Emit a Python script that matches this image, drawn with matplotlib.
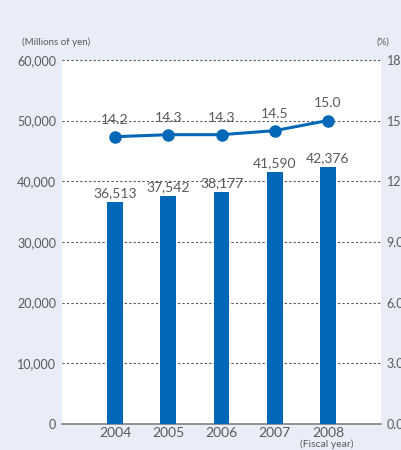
import matplotlib.pyplot as plt

# data
tahun = ['2004', '2005', '2006', '2007', '2008']
nilai = [36513, 37542, 38177, 41590, 42376]
rasio = [14.2, 14.3, 14.3, 14.5, 15.0]
yticks_kiri = [0, 10000, 20000, 30000, 40000, 50000, 60000]
yticks_kanan = [0.0, 3.0, 6.0, 9.0, 12.0, 15.0, 18.0]

biru = '#0068b7'
abu = '#5a5a5a'
bg = '#e9edf8'

plt.rcParams['font.family'] = ['Lato', 'DejaVu Sans']

fig = plt.figure(figsize=(4.02, 4.5), dpi=100, facecolor=bg)
ax = fig.add_axes([0.154, 0.058, 0.794, 0.809])
ax.set_facecolor('white')

x = list(range(len(tahun)))
ax.bar(x, nilai, width=0.3, color=biru, zorder=3)
ax.set_xlim(-1, 5)
ax.set_ylim(0, 60000)
ax.set_yticks(yticks_kiri)
ax.set_yticklabels([f'{v:,}' for v in yticks_kiri])
ax.set_xticks(x)
ax.set_xticklabels(tahun)
ax.tick_params(length=0, labelsize=9, colors=abu, pad=4)
ax.tick_params(axis='x', labelsize=10, pad=2)

for v in yticks_kiri[1:]:
    ax.axhline(v, color='#555555', lw=0.8, ls=(0, (2, 2)), zorder=1, clip_on=False)

for s in ['top', 'left', 'right']:
    ax.spines[s].set_visible(False)
ax.spines['bottom'].set_color('#8a8a8a')
ax.spines['bottom'].set_linewidth(1.3)

for xi, v in zip(x, nilai):
    ax.annotate(f'{v:,}', (xi, v), xytext=(0, 2), textcoords='offset points',
                ha='center', va='bottom', fontsize=10, color=abu, zorder=4)

ax2 = ax.twinx()
ax2.set_ylim(0, 18)
ax2.set_yticks(yticks_kanan)
ax2.set_yticklabels([f'{v:.1f}' for v in yticks_kanan])
ax2.tick_params(length=0, labelsize=9, colors=abu, pad=4)
for s in ax2.spines.values():
    s.set_visible(False)
ax2.plot(x, rasio, color=biru, lw=2.2, marker='o', markersize=8, zorder=5)
for xi, r in zip(x, rasio):
    ax2.annotate(f'{r:.1f}', (xi, r), xytext=(0, 8), textcoords='offset points',
                 ha='center', va='bottom', fontsize=10, color=abu)

fig.text(22 / 402, 1 - 42 / 450, '(Millions of yen)', fontsize=7, color=abu, va='center')
fig.text(377 / 402, 1 - 42 / 450, '(%)', fontsize=7, color=abu, va='center')
fig.text(327 / 402, 1 - 444 / 450, '(Fiscal year)', fontsize=7.5, color=abu,
         va='center', ha='center')

fig.savefig('out.png', dpi=100, facecolor=bg)
